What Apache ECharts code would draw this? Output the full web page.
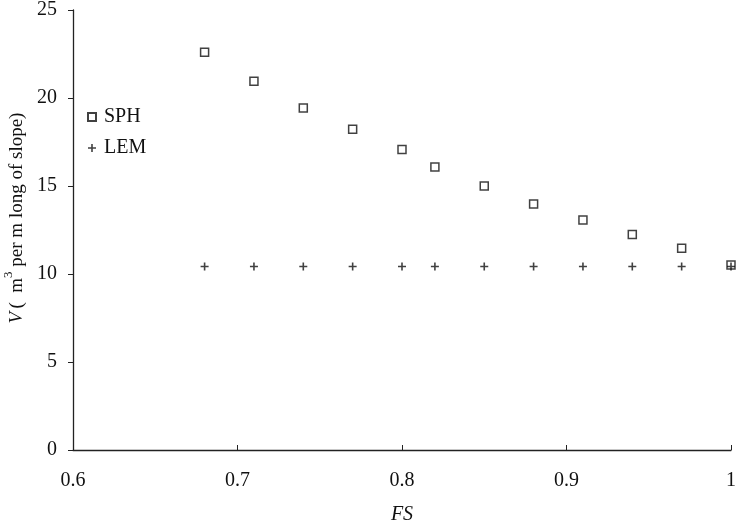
<!DOCTYPE html>
<html>
<head>
<meta charset="utf-8">
<script src="https://cdn.jsdelivr.net/npm/echarts@6/dist/echarts.min.js"></script>
<style>
  html, body { margin: 0; padding: 0; background: #fff; }
  #chart { width: 737px; height: 527px; }
</style>
</head>
<body>
<div id="chart"></div>
<script>
// FS values shared by both series
var fsValues = [0.68, 0.71, 0.74, 0.77, 0.80, 0.82, 0.85, 0.88, 0.91, 0.94, 0.97, 1.0];
var sphValues = [22.6, 20.95, 19.43, 18.22, 17.08, 16.08, 15.0, 13.98, 13.07, 12.25, 11.46, 10.51];
var lemValues = [10.43, 10.43, 10.43, 10.43, 10.43, 10.43, 10.43, 10.43, 10.43, 10.43, 10.43, 10.43];

var font = 'Liberation Serif';

function pairs(xs, ys) {
  var out = [];
  for (var i = 0; i < xs.length; i++) out.push([xs[i], ys[i]]);
  return out;
}

var plus = 'path://M4,0h2v4h4v2h-4v4h-2v-4h-4v-2h4z';

var myChart = echarts.init(document.getElementById('chart'));
var option = {
  animation: false,
  backgroundColor: '#fff',
  grid: { left: 73, right: 6, top: 10, bottom: 77, outerBoundsMode: 'none' },
  legend: {
    orient: 'vertical',
    left: 82,
    top: 102,
    itemWidth: 8,
    itemHeight: 8,
    itemGap: 11,
    textStyle: { fontFamily: font, fontSize: 20, color: '#111', padding: [0, 0, 0, 3] },
    data: ['SPH', 'LEM']
  },
  xAxis: {
    type: 'value',
    min: 0.6,
    max: 1,
    interval: 0.1,
    name: 'FS',
    nameLocation: 'middle',
    nameGap: 55,
    nameTextStyle: { fontFamily: font, fontSize: 20, fontStyle: 'italic', color: '#111' },
    axisLine: { lineStyle: { color: '#222', width: 1.3 } },
    axisTick: { inside: true, length: 5, lineStyle: { color: '#222' } },
    splitLine: { show: false },
    axisLabel: {
      fontFamily: font, fontSize: 20, color: '#111', margin: 21,
      formatter: function (v) { return v === 1 ? '1' : v.toFixed(1); }
    }
  },
  yAxis: {
    type: 'value',
    min: 0,
    max: 25,
    interval: 5,
    name: '{i|V} {n|(  m}{s|3}{n| per m long of slope)}',
    nameLocation: 'middle',
    nameGap: 41,
    nameTextStyle: {
      padding: [0, 0, 0, 24],
      rich: {
        i: { fontFamily: font, fontSize: 19, fontStyle: 'italic', color: '#111' },
        n: { fontFamily: font, fontSize: 19, color: '#111' },
        s: { fontFamily: font, fontSize: 13, color: '#111', verticalAlign: 'top', padding: [0, 0, 16, 0] }
      }
    },
    axisLine: { show: true, lineStyle: { color: '#222', width: 1.3 } },
    axisTick: { show: true, length: 5, lineStyle: { color: '#222' } },
    splitLine: { show: false },
    axisLabel: { fontFamily: font, fontSize: 20, color: '#111', margin: 16 }
  },
  series: [
    {
      name: 'SPH',
      type: 'scatter',
      symbol: 'rect',
      symbolSize: 8,
      itemStyle: { color: '#fff', borderColor: '#111', borderWidth: 1.5 },
      data: pairs(fsValues, sphValues)
    },
    {
      name: 'LEM',
      type: 'scatter',
      symbol: plus,
      symbolSize: 8,
      itemStyle: { color: '#111' },
      data: pairs(fsValues, lemValues)
    }
  ]
};
myChart.setOption(option);
</script>
</body>
</html>
